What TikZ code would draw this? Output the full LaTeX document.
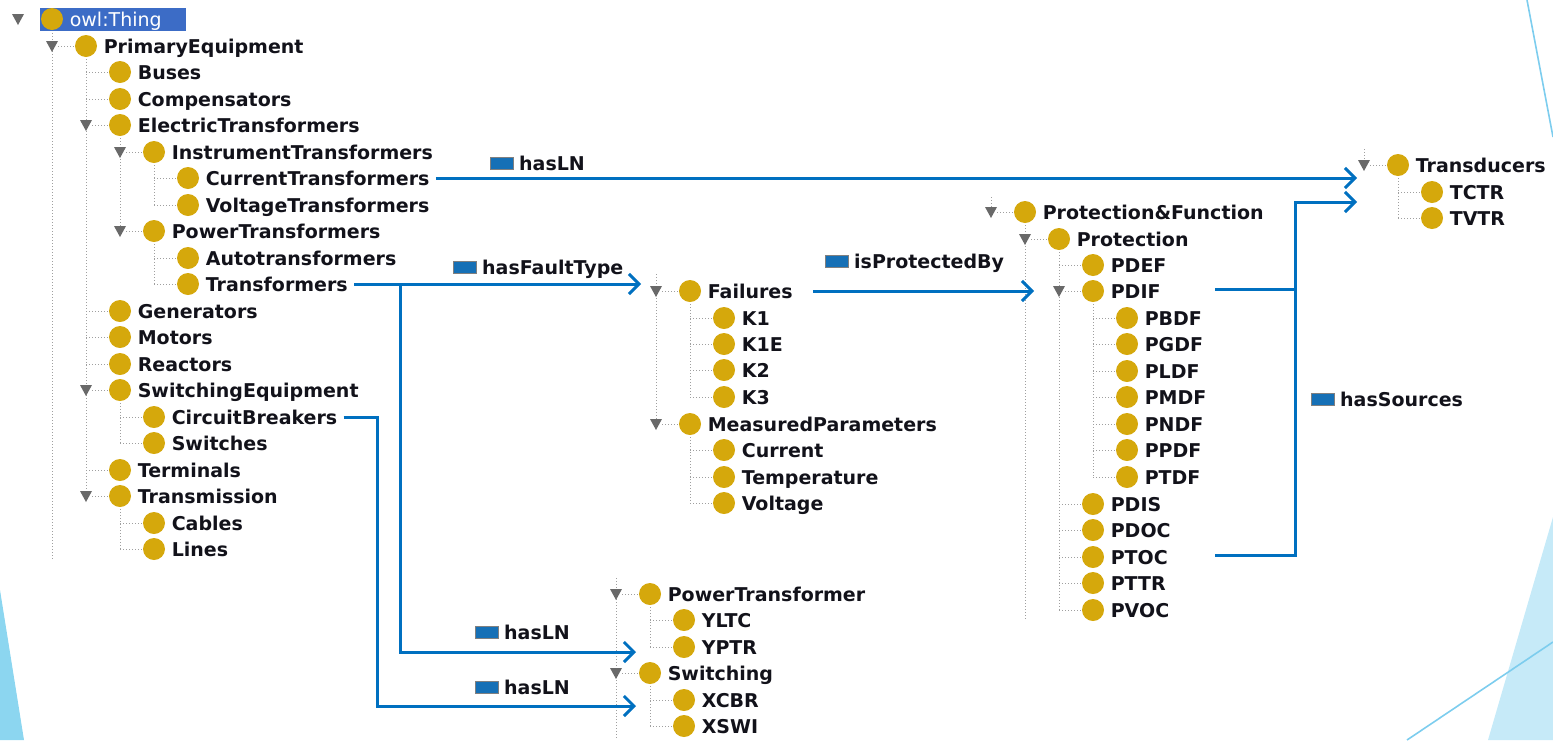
\documentclass[tikz,border=0pt]{standalone}
\usepackage{fontspec}
\setmainfont{DejaVu Sans}
\usetikzlibrary{positioning,arrows.meta}

\definecolor{owlgold}{RGB}{213,168,12}
\definecolor{linkblue}{RGB}{0,112,192}
\definecolor{relblue}{RGB}{22,112,182}
\definecolor{trigray}{RGB}{105,105,105}
\definecolor{selblue}{RGB}{60,108,198}
\definecolor{decofill}{RGB}{198,234,248}
\definecolor{decoline}{RGB}{125,205,238}
\definecolor{decoleft}{RGB}{140,214,240}
\definecolor{ink}{RGB}{18,18,26}

\tikzset{
  dot/.style={circle, fill=owlgold, minimum size=11pt, inner sep=0pt},
  cls/.style={font=\bfseries\fontsize{9.5}{11}\selectfont, text=ink, inner sep=0pt,
    text height=7pt, text depth=0pt},
  guide/.style={gray!75, densely dotted, line width=0.5pt},
  link/.style={linkblue, line width=1.5pt},
  relbox/.style={rectangle, fill=relblue, draw=gray, line width=0.4pt,
    minimum width=11.5pt, minimum height=6pt, inner sep=0pt},
  barb/.style={-{Straight Barb[length=5pt,width=10pt]}},
}

% class without children: name, x, y, text
\newcommand{\leafcls}[4]{%
  \draw[guide] (#2-34,#3) -- (#2-11,#3);
  \node[dot] (#1-d) at (#2,#3) {};
  \node[cls, right=3pt of #1-d] (#1) {#4}}
% class shown open, with its triangle
\newcommand{\opencls}[4]{%
  \fill[trigray] (#2-34,#3) ++(-6,-5) -- ++(12,0) -- ++(-6,11) -- cycle;
  \draw[guide] (#2-28,#3) -- (#2-11,#3);
  \node[dot] (#1-d) at (#2,#3) {};
  \node[cls, right=3pt of #1-d] (#1) {#4}}
% object property label
\newcommand{\relname}[4]{%
  \node[relbox, anchor=west] (#1-b) at (#2,#3) {};
  \node[cls, right=2.5pt of #1-b] (#1) {#4}}

\begin{document}
\begin{tikzpicture}[x=0.5pt, y=-0.5pt]
\useasboundingbox (0,0) rectangle (1553,740);

%--- BACKGROUND ---
\fill[decoleft] (0,590) -- (24,740) -- (0,740) -- cycle;
\fill[decofill] (1553,517) -- (1488,740) -- (1553,740) -- cycle;
\draw[decoline, line width=0.8pt] (1407,740) -- (1553,642);
\draw[decoline, line width=0.8pt] (1527,0) -- (1553,137);

%--- GUIDE LINES ---
\foreach \x/\a/\b in {52/30/560, 86/56/496, 120/135/231, 154/162/205, 154/241/284,
  120/400/443, 120/506/549, 656/274/424, 690/301/397, 690/434/503,
  991/197/207, 1025/222/620, 1059/249/610, 1093/301/477,
  1364/149/159, 1398/175/218, 616/578/740, 650/604/647, 650/683/726}
  \draw[guide] (\x,\a) -- (\x,\b);

%--- CLASS TREE ---
\fill[selblue] (40,8) rectangle (186,31);
\fill[trigray] (18,19) ++(-6,-5) -- ++(12,0) -- ++(-6,11) -- cycle;
\node[dot] (thing-d) at (52,19) {};
\node[cls, font=\fontsize{9.5}{11}\selectfont, text=white, right=3pt of thing-d] (thing) {owl:Thing};
\opencls{pe}{86}{46}{PrimaryEquipment};
\leafcls{bus}{120}{72}{Buses};
\leafcls{comp}{120}{99}{Compensators};
\opencls{et}{120}{125}{ElectricTransformers};
\opencls{it}{154}{152}{InstrumentTransformers};
\leafcls{ct}{188}{178}{CurrentTransformers};
\leafcls{vt}{188}{205}{VoltageTransformers};
\opencls{pt}{154}{231}{PowerTransformers};
\leafcls{at}{188}{258}{Autotransformers};
\leafcls{tf}{188}{284}{Transformers};
\leafcls{gen}{120}{311}{Generators};
\leafcls{mot}{120}{337}{Motors};
\leafcls{rea}{120}{364}{Reactors};
\opencls{se}{120}{390}{SwitchingEquipment};
\leafcls{cb}{154}{417}{CircuitBreakers};
\leafcls{sw}{154}{443}{Switches};
\leafcls{term}{120}{470}{Terminals};
\opencls{trm}{120}{496}{Transmission};
\leafcls{cab}{154}{523}{Cables};
\leafcls{lin}{154}{549}{Lines};

%--- FAILURES ---
\opencls{fail}{690}{291}{Failures};
\leafcls{k1}{724}{318}{K1};
\leafcls{k1e}{724}{344}{K1E};
\leafcls{k2}{724}{370}{K2};
\leafcls{k3}{724}{397}{K3};
\opencls{mp}{690}{424}{MeasuredParameters};
\leafcls{cur}{724}{450}{Current};
\leafcls{tmp}{724}{477}{Temperature};
\leafcls{vol}{724}{503}{Voltage};

%--- PROTECTION ---
\opencls{pf}{1025}{212}{Protection\&Function};
\opencls{prot}{1059}{239}{Protection};
\leafcls{pdef}{1093}{265}{PDEF};
\opencls{pdif}{1093}{291}{PDIF};
\leafcls{pbdf}{1127}{318}{PBDF};
\leafcls{pgdf}{1127}{344}{PGDF};
\leafcls{pldf}{1127}{371}{PLDF};
\leafcls{pmdf}{1127}{397}{PMDF};
\leafcls{pndf}{1127}{424}{PNDF};
\leafcls{ppdf}{1127}{450}{PPDF};
\leafcls{ptdf}{1127}{477}{PTDF};
\leafcls{pdis}{1093}{504}{PDIS};
\leafcls{pdoc}{1093}{530}{PDOC};
\leafcls{ptoc}{1093}{557}{PTOC};
\leafcls{pttr}{1093}{583}{PTTR};
\leafcls{pvoc}{1093}{610}{PVOC};

%--- TRANSDUCERS ---
\opencls{td}{1398}{165}{Transducers};
\leafcls{tctr}{1432}{192}{TCTR};
\leafcls{tvtr}{1432}{218}{TVTR};

%--- LOGICAL NODES ---
\opencls{ptr}{650}{594}{PowerTransformer};
\leafcls{yltc}{684}{620}{YLTC};
\leafcls{yptr}{684}{647}{YPTR};
\opencls{swg}{650}{673}{Switching};
\leafcls{xcbr}{684}{700}{XCBR};
\leafcls{xswi}{684}{726}{XSWI};

%--- RELATIONS ---
\relname{lnTop}{490}{163}{hasLN};
\relname{fault}{453}{267}{hasFaultType};
\relname{protBy}{825}{261}{isProtectedBy};
\relname{src}{1311}{399}{hasSources};
\relname{lnPT}{475}{632}{hasLN};
\relname{lnSw}{475}{687}{hasLN};

\coordinate (tdIn1) at (1357,178);
\coordinate (tdIn2) at (1357,202);
\coordinate (failIn) at (641,284);
\coordinate (tfSplit) at (400,284);
\coordinate (yptrIn) at (636,652);
\coordinate (cbBend) at (377,417);
\coordinate (xcbrIn) at (636,706);
\coordinate (pdifIn) at (1034,291);
\coordinate (pdifOut) at (1215,289);
\coordinate (ptocOut) at (1215,555);
\coordinate (srcJoin) at (1295,289);

\draw[link, barb] ([xshift=3pt]ct.east) -- (tdIn1);
\draw[link, barb] ([xshift=3pt]tf.east) -- (failIn);
\draw[link, barb] (tfSplit) |- (yptrIn);
\draw[link, barb] ([xshift=3pt]cb.east) -- (cbBend) |- (xcbrIn);
\draw[link, barb] ([xshift=10pt]fail.east) -- (pdifIn);
\draw[link, barb] (pdifOut) -- (srcJoin) |- (tdIn2);
\draw[link] (ptocOut) -| (srcJoin);
\end{tikzpicture}
\end{document}
